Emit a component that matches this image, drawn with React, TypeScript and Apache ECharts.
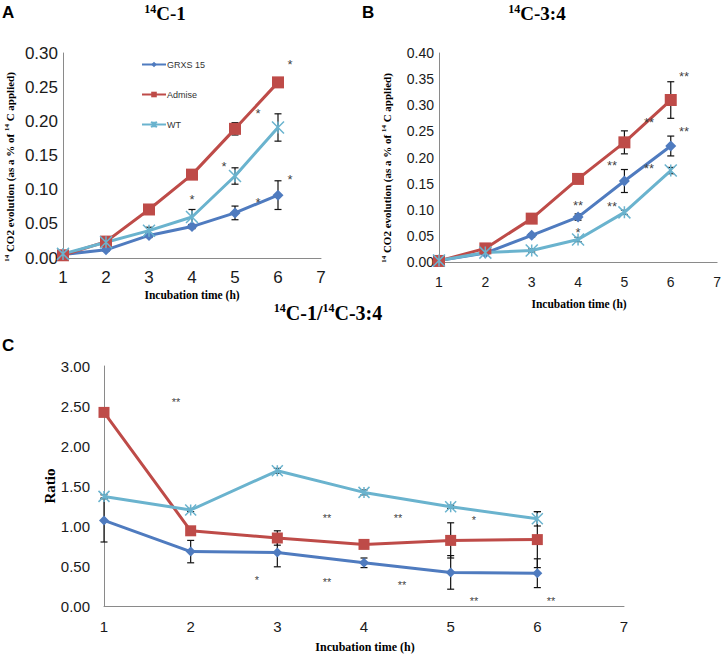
import React, { useEffect, useRef } from "react";
import * as echarts from "echarts";

// ---------- data ----------
const hours = [1, 2, 3, 4, 5, 6];
const seriesNames = ["GRXS 15", "Admise", "WT"];

// Panel A: 14C-1
const aGrxs = [0.005, 0.012, 0.033, 0.046, 0.066, 0.092];
const aGrxsErr = [0.001, 0.002, 0.003, 0.003, 0.01, 0.021];
const aAdmise = [0.004, 0.024, 0.071, 0.122, 0.189, 0.257];
const aAdmiseErr = [0.001, 0.002, 0.003, 0.003, 0.009, 0.003];
const aWt = [0.006, 0.023, 0.04, 0.06, 0.12, 0.191];
const aWtErr = [0.001, 0.002, 0.005, 0.011, 0.012, 0.02];
const aStars: [number, number, string][] = [
  [6.28, 0.289, "*"], [5.54, 0.217, "*"], [4.75, 0.139, "*"],
  [4.01, 0.091, "*"], [5.54, 0.087, "*"], [6.28, 0.121, "*"],
];

// Panel B: 14C-3:4
const bGrxs = [0.003, 0.017, 0.051, 0.086, 0.155, 0.222];
const bGrxsErr = [0.001, 0.002, 0.003, 0.006, 0.022, 0.019];
const bAdmise = [0.002, 0.026, 0.083, 0.159, 0.229, 0.31];
const bAdmiseErr = [0.001, 0.002, 0.004, 0.004, 0.022, 0.035];
const bWt = [0.003, 0.018, 0.022, 0.043, 0.095, 0.175];
const bWtErr = [0.001, 0.002, 0.003, 0.004, 0.004, 0.006];
const bStars: [number, number, string][] = [
  [6.28, 0.363, "**"], [5.52, 0.274, "**"], [6.28, 0.256, "**"],
  [4.74, 0.191, "**"], [5.53, 0.187, "**"], [3.99, 0.115, "**"],
  [4.74, 0.114, "**"], [4.0, 0.064, "*"],
];

// Panel C: ratio 14C-1 / 14C-3:4
const cGrxs = [1.07, 0.68, 0.67, 0.54, 0.42, 0.41];
const cGrxsErr = [0.27, 0.14, 0.18, 0.06, 0.21, 0.18];
const cAdmise = [2.42, 0.94, 0.85, 0.77, 0.82, 0.83];
const cAdmiseErr = [0.02, 0.03, 0.09, 0.02, 0.22, 0.35];
const cWt = [1.37, 1.2, 1.69, 1.42, 1.24, 1.09];
const cWtErr = [0.02, 0.02, 0.03, 0.03, 0.02, 0.09];
const cStars: [number, number, string][] = [
  [1.83, 2.58, "**"], [3.57, 1.14, "**"], [4.39, 1.14, "**"],
  [5.27, 1.11, "*"], [2.76, 0.36, "*"], [3.57, 0.33, "**"],
  [4.44, 0.3, "**"], [5.27, 0.1, "**"], [6.16, 0.1, "**"],
];

// ---------- styling ----------
const SANS = "'Liberation Sans', Arial, sans-serif";
const SERIF = "'Liberation Serif', 'Times New Roman', serif";
const NARROW = "'Liberation Sans Narrow', 'Liberation Sans', Arial, sans-serif";
const COLORS = ["#4F7BBF", "#BE4B48", "#6AB3CE"];
const STAR_COLOR = "#3a3a3a";
const STAR_SYMBOL = "path://M0,0L10,10M10,0L0,10M5,0L5,10";
const SYMBOLS = ["diamond", "rect", STAR_SYMBOL];

function lineSeries(idx: number, vals: number[], grid: number, sizes: number[]) {
  return {
    type: "line",
    name: seriesNames[idx],
    xAxisIndex: grid,
    yAxisIndex: grid,
    data: hours.map((h, i) => [h, vals[i]]),
    symbol: SYMBOLS[idx],
    symbolSize: sizes[idx],
    showSymbol: true,
    lineStyle: { color: COLORS[idx], width: 3 },
    itemStyle:
      idx === 2
        ? { color: COLORS[idx], borderColor: COLORS[idx], borderWidth: 1.5 }
        : { color: COLORS[idx] },
    z: 3,
  };
}

function errSeries(vals: number[], errs: number[], grid: number) {
  return {
    type: "custom",
    xAxisIndex: grid,
    yAxisIndex: grid,
    colorBy: "series",
    itemStyle: { color: "#111" },
    data: hours.map((h, i) => [h, vals[i], errs[i]]),
    z: 2,
    silent: true,
    renderItem: (params: any, api: any) => {
      const x = api.value(0);
      const v = api.value(1);
      const e = api.value(2);
      const top = api.coord([x, v + e]);
      const bot = api.coord([x, v - e]);
      const hw = 3.5;
      const st = { stroke: "#111", lineWidth: 1.2 };
      return {
        type: "group",
        children: [
          { type: "line", shape: { x1: top[0], y1: top[1], x2: bot[0], y2: bot[1] }, style: st },
          { type: "line", shape: { x1: top[0] - hw, y1: top[1], x2: top[0] + hw, y2: top[1] }, style: st },
          { type: "line", shape: { x1: bot[0] - hw, y1: bot[1], x2: bot[0] + hw, y2: bot[1] }, style: st },
        ],
      };
    },
  };
}

function starSeries(stars: [number, number, string][], grid: number, fontSize: number, family: string) {
  return {
    type: "custom",
    xAxisIndex: grid,
    yAxisIndex: grid,
    colorBy: "series",
    itemStyle: { color: STAR_COLOR },
    data: stars.map((s) => [s[0], s[1]]),
    z: 4,
    silent: true,
    renderItem: (params: any, api: any) => {
      const p = api.coord([api.value(0), api.value(1)]);
      return {
        type: "text",
        x: Math.round(p[0]),
        y: Math.round(p[1] + fontSize * 0.25),
        style: {
          text: stars[params.dataIndex][2],
          fill: STAR_COLOR,
          opacity: 0.99,
          fontSize,
          fontFamily: family,
          align: "center",
          verticalAlign: "middle",
        },
      };
    },
  };
}

function xAxis(grid: number, fontSize: number, margin: number, family: string) {
  return {
    type: "value",
    gridIndex: grid,
    min: 1,
    max: 7,
    interval: 1,
    axisLine: { show: true, onZero: false, lineStyle: { color: "#8a8a8a", width: 1 } },
    axisTick: { show: false },
    splitLine: { show: false },
    axisLabel: { fontSize, fontFamily: family, color: "#1a1a1a", margin },
  };
}

function yAxis(grid: number, max: number, interval: number, fontSize: number, margin: number, family: string) {
  return {
    type: "value",
    gridIndex: grid,
    min: 0,
    max,
    interval,
    axisLine: { show: true, lineStyle: { color: "#8a8a8a", width: 1 } },
    axisTick: { show: false },
    splitLine: { show: false },
    axisLabel: {
      fontSize,
      fontFamily: family,
      color: "#1a1a1a",
      margin,
      formatter: (v: number) => v.toFixed(2),
    },
  };
}

function richStyles(big: number, small: number) {
  return {
    b: { fontSize: big, fontWeight: "bold", fontFamily: SERIF, fill: "#000", lineHeight: big + 2 },
    s: { fontSize: small, fontWeight: "bold", fontFamily: SERIF, fill: "#000", verticalAlign: "top", lineHeight: small + 1 },
  };
}

function titleText(x: number, y: number, parts: string, big: number, small: number) {
  return {
    type: "text",
    x,
    y,
    style: { text: parts, align: "center", verticalAlign: "middle", rich: richStyles(big, small) },
  };
}

function rotText(x: number, y: number, parts: string, big: number, small: number) {
  return {
    type: "text",
    x,
    y,
    rotation: Math.PI / 2,
    style: { text: parts, align: "center", verticalAlign: "middle", rich: richStyles(big, small) },
  };
}

function plainText(x: number, y: number, text: string, font: string, align = "center") {
  return {
    type: "text",
    x,
    y,
    style: { text, font, fill: "#000", align, verticalAlign: "middle" },
  };
}

export default function App() {
  const ref = useRef<HTMLDivElement>(null);

  useEffect(() => {
    if (!ref.current) return;
    const chart = echarts.init(ref.current, null, { renderer: "svg" });
    const sizesAB = [11, 12, 12];
    const sizesC = [10, 11, 11];

    chart.setOption({
      animation: false,
      backgroundColor: "#fff",
      grid: [
        { left: 63, top: 53, width: 258, height: 205 },
        { left: 439, top: 53, width: 279, height: 209 },
        { left: 104, top: 366, width: 520, height: 240 },
      ],
      xAxis: [
        xAxis(0, 17, 11, SANS),
        xAxis(1, 14, 13, SANS),
        xAxis(2, 15, 13, NARROW),
      ],
      yAxis: [
        yAxis(0, 0.3, 0.05, 17, 5, SANS),
        yAxis(1, 0.4, 0.05, 14, 5, SANS),
        yAxis(2, 3, 0.5, 15, 14, NARROW),
      ],
      legend: {
        data: seriesNames,
        orient: "vertical",
        left: 141,
        top: 60,
        itemGap: 21,
        itemWidth: 24,
        itemHeight: 7,
        padding: 0,
        textStyle: { fontSize: 9, fontFamily: SANS, color: "#333", padding: [0, 0, 0, -4] },
        selectedMode: false,
      },
      series: [
        errSeries(aGrxs, aGrxsErr, 0),
        errSeries(aAdmise, aAdmiseErr, 0),
        errSeries(aWt, aWtErr, 0),
        lineSeries(0, aGrxs, 0, sizesAB),
        lineSeries(1, aAdmise, 0, sizesAB),
        lineSeries(2, aWt, 0, sizesAB),
        starSeries(aStars, 0, 13, SANS),

        errSeries(bGrxs, bGrxsErr, 1),
        errSeries(bAdmise, bAdmiseErr, 1),
        errSeries(bWt, bWtErr, 1),
        lineSeries(0, bGrxs, 1, sizesAB),
        lineSeries(1, bAdmise, 1, sizesAB),
        lineSeries(2, bWt, 1, sizesAB),
        starSeries(bStars, 1, 13, SANS),

        errSeries(cGrxs, cGrxsErr, 2),
        errSeries(cAdmise, cAdmiseErr, 2),
        errSeries(cWt, cWtErr, 2),
        lineSeries(0, cGrxs, 2, sizesC),
        lineSeries(1, cAdmise, 2, sizesC),
        lineSeries(2, cWt, 2, sizesC),
        starSeries(cStars, 2, 11, SANS),
      ],
      graphic: [
        plainText(2, 12, "A", `bold 17px ${SANS}`, "left"),
        plainText(362, 12, "B", `bold 17px ${SANS}`, "left"),
        plainText(2, 345, "C", `bold 17px ${SANS}`, "left"),
        titleText(165, 13, "{s|14}{b|C-1}", 19, 12),
        titleText(537, 13, "{s|14}{b|C-3:4}", 19, 12),
        titleText(328, 313, "{s|14}{b|C-1/}{s|14}{b|C-3:4}", 20, 12),
        rotText(10, 167, "{s|14}{b| CO2 evolution (as a % of }{s|14}{b| C applied)}", 11, 7),
        rotText(387, 168, "{s|14}{b| CO2 evolution (as a % of }{s|14}{b| C applied)}", 11, 7),
        rotText(50, 486, "{b|Ratio}", 15, 9),
        plainText(192, 295, "Incubation time (h)", `bold 11.5px ${SERIF}`),
        plainText(579, 304, "Incubation time (h)", `bold 11.5px ${SERIF}`),
        plainText(365, 647, "Incubation time (h)", `bold 12px ${SERIF}`),
      ],
    });

    return () => chart.dispose();
  }, []);

  return (
    <div
      ref={ref}
      style={{ position: "absolute", left: 0, top: 0, width: 724, height: 655, background: "#fff" }}
    />
  );
}
